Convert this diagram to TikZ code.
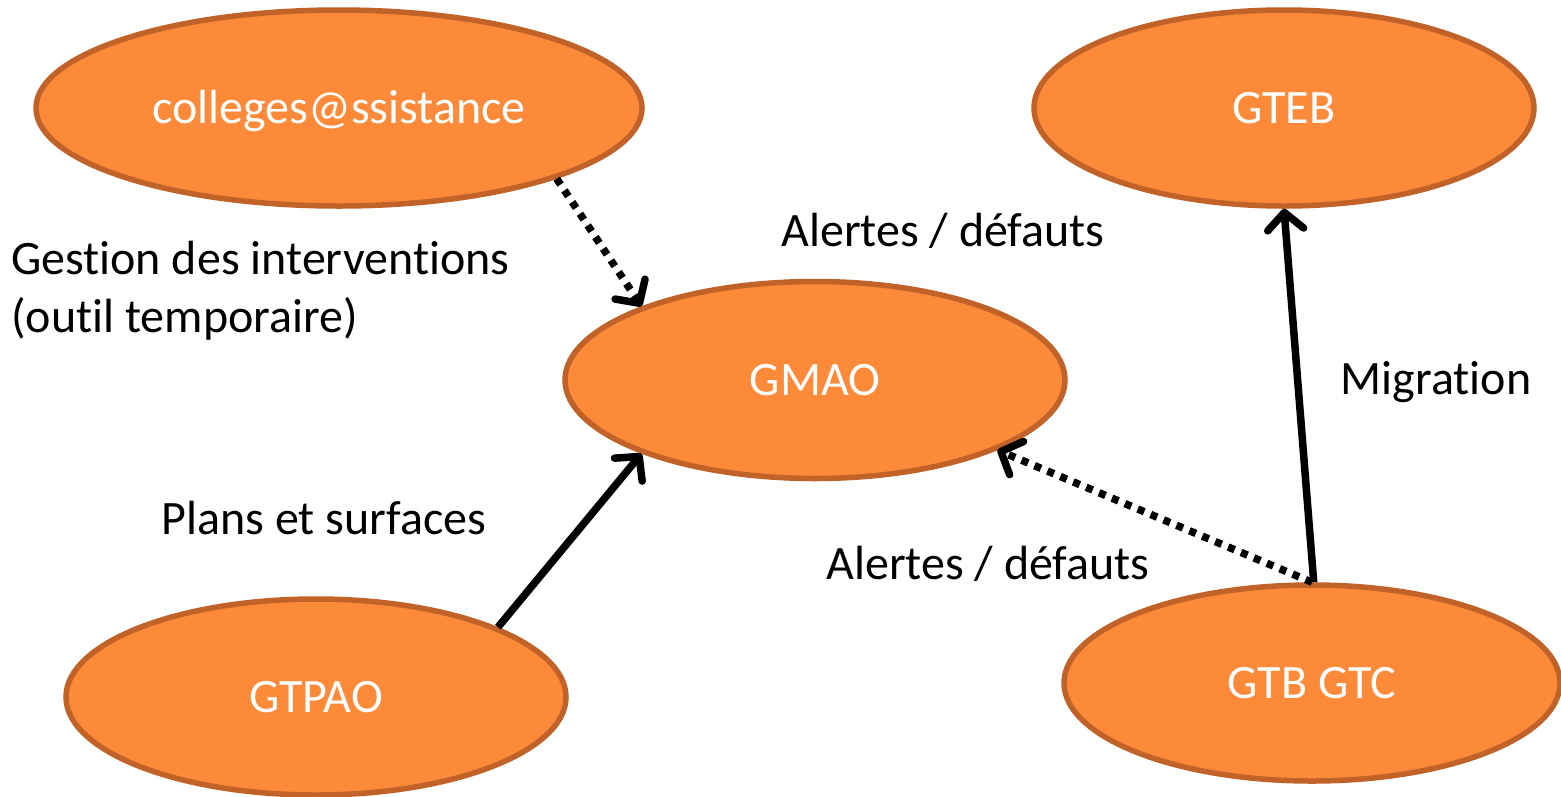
\documentclass[tikz,border=0pt]{standalone}
\usepackage{fontspec}
\setmainfont{Carlito}[Ligatures={NoCommon,NoContextual,NoRare}]
\usetikzlibrary{shapes.geometric,arrows.meta}
\definecolor{orfill}{RGB}{252,138,57}
\definecolor{ordraw}{RGB}{193,99,40}
\newcommand{\tI}{t\kern0pt i}
\tikzset{
  bubble/.style={ellipse, draw=ordraw, fill=orfill, line width=5.5pt, inner sep=0pt, text=white, text height=31pt, text depth=0pt, font=\fontsize{48}{58}\selectfont},
  lbl/.style={inner sep=0pt, font=\fontsize{48}{58}\selectfont, text=black},
  tip/.style={-{Straight Barb[length=17pt,width=36pt,line cap=round,line join=round]}},
  solidarrow/.style={tip, line width=7.5pt},
  dotarrow/.style={tip, line width=7.5pt, dash pattern=on 7pt off 7pt}
}
\begin{document}
\begin{tikzpicture}[x=1pt,y=-1pt]
\useasboundingbox (0,0) rectangle (1561,796);
\node[bubble, minimum width=606pt, minimum height=196pt] (col) at (339,108) {colleges@ssistance};
\node[bubble, minimum width=500pt, minimum height=196pt] (gteb) at (1284,108) {GTEB};
\node[bubble, minimum width=500pt, minimum height=197pt] (gmao) at (815,380) {GMAO};
\node[bubble, minimum width=500pt, minimum height=196pt] (gtpao) at (316,697) {GTPAO};
\node[bubble, minimum width=496pt, minimum height=196pt] (gtb) at (1312,683) {GTB GTC};

\node[lbl, anchor=west, align=left] (gest) at (11,291) {Ges\tI on des interven\tI ons\\(ou\tI l temporaire)};
\node[lbl] (al1) at (943,231) {Alertes / défauts};
\node[lbl] (plans) at (324,518) {Plans et surfaces};
\node[lbl] (al2) at (988,564) {Alertes / défauts};
\node[lbl] (mig) at (1436,382) {Migra\tI on};

\draw[dotarrow] (col.-18.4) -- (gmao.157.6);
\draw[solidarrow] (gtpao.21.4) -- (gmao.-157.3);
\draw[dotarrow] (gtb.90) -- (gmao.-21.5);
\draw[solidarrow] (gtb.89.5) -- (gteb.south);
\end{tikzpicture}
\end{document}
